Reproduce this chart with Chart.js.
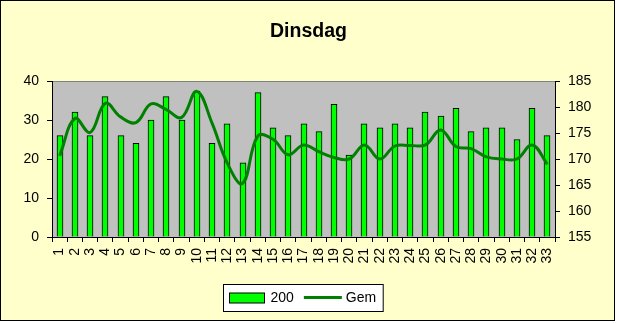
<!DOCTYPE html>
<html>
<head>
<meta charset="utf-8">
<script src="https://cdn.jsdelivr.net/npm/chart.js@4/dist/chart.umd.min.js"></script>
<style>
html,body{margin:0;padding:0;background:#ffffff;}
#wrap{width:617px;height:323px;}
canvas{display:block;}
</style>
</head>
<body>
<div id="wrap"><canvas id="c" width="617" height="323"></canvas></div>
<script>
const titleText = 'Dinsdag';
const days = ['1','2','3','4','5','6','7','8','9','10','11','12','13','14','15','16','17','18','19','20','21','22','23','24','25','26','27','28','29','30','31','32','33'];
const values200 = [26,32,26,36,26,24,30,36,30,37.4,24,29,19,37,28,26,29,27,34,21,29,28,29,28,32,31,33,27,28,28,25,33,26];
const valuesGem = [170.6,177.8,175.1,180.7,178.1,177,180.6,179.5,178,183,176.9,169.2,165.3,174.4,173.8,170.8,172.7,171.4,170.3,170,172.7,170,172.5,172.6,172.7,175.6,172.4,172,170.4,170,170,172.7,169];
const leftTicks = [0,10,20,30,40];
const rightTicks = [155,160,165,170,175,180,185];

const FONT = "'Liberation Sans', Arial, sans-serif";

const framePlugin = {
  id: 'frame',
  afterDatasetsUpdate(chart) {
    chart.data.datasets.forEach((d, i) => {
      if (d.type !== 'bar') return;
      chart.getDatasetMeta(i).data.forEach(el => { el.x = Math.round(el.x); });
    });
  },
  beforeDraw(chart) {
    const ctx = chart.ctx;
    const a = chart.chartArea;
    ctx.save();
    ctx.fillStyle = '#ffffff';
    ctx.fillRect(0, 0, chart.width, chart.height);
    ctx.fillStyle = '#FFFFCC';
    ctx.fillRect(0, 0, 615, 321);
    ctx.strokeStyle = '#000000';
    ctx.lineWidth = 1;
    ctx.strokeRect(0.5, 0.5, 614, 320);
    ctx.fillStyle = '#C0C0C0';
    ctx.fillRect(a.left, a.top, a.right - a.left, a.bottom - a.top);
    ctx.strokeStyle = '#808080';
    ctx.beginPath();
    ctx.moveTo(a.left, a.top + 0.5);
    ctx.lineTo(a.right, a.top + 0.5);
    ctx.stroke();
    ctx.restore();
  },
  afterDraw(chart) {
    const ctx = chart.ctx;
    const ds = chart.data.datasets;
    const barDs = ds.find(d => d.type === 'bar');
    const lineDs = ds.find(d => d.type === 'line');
    ctx.save();
    ctx.font = '14px ' + FONT;
    const w1 = ctx.measureText(barDs.label).width;
    const w2 = ctx.measureText(lineDs.label).width;
    const total = 6 + 36 + 5 + w1 + 10 + 38 + 4 + w2 + 7;
    const bx = Math.round(302.5 - total / 2) + 0.5;
    const by = 284.5;
    const bh = 27;
    ctx.fillStyle = '#ffffff';
    ctx.fillRect(bx, by, total, bh);
    ctx.strokeStyle = '#000000';
    ctx.lineWidth = 1;
    ctx.strokeRect(bx, by, total, bh);
    let x = bx + 6;
    const cy = by + 13;
    ctx.fillStyle = barDs.backgroundColor;
    ctx.fillRect(x, cy - 4.5, 35, 10);
    ctx.strokeRect(x, cy - 4.5, 35, 10);
    x += 36 + 5;
    ctx.fillStyle = '#000000';
    ctx.textBaseline = 'middle';
    ctx.textAlign = 'left';
    ctx.fillText(barDs.label, x, cy + 1);
    x += w1 + 10;
    ctx.strokeStyle = lineDs.borderColor;
    ctx.lineWidth = 3;
    ctx.beginPath();
    ctx.moveTo(x, cy);
    ctx.lineTo(x + 38, cy);
    ctx.stroke();
    x += 38 + 4;
    ctx.fillText(lineDs.label, x, cy + 1);
    ctx.restore();
  }
};

const tickFont = { family: FONT, size: 14 };

new Chart(document.getElementById('c'), {
  type: 'bar',
  data: {
    labels: days,
    datasets: [
      {
        type: 'line',
        label: 'Gem',
        data: valuesGem,
        yAxisID: 'y1',
        borderColor: '#008000',
        borderWidth: 3,
        pointRadius: 0,
        tension: 0.4,
        fill: false,
        order: 0
      },
      {
        type: 'bar',
        label: '200',
        data: values200,
        yAxisID: 'y',
        backgroundColor: '#00FF00',
        borderColor: '#000000',
        borderWidth: 1,
        barThickness: 6,
        categoryPercentage: 1.0,
        order: 1
      }
    ]
  },
  options: {
    responsive: false,
    animation: false,
    devicePixelRatio: 1,
    layout: { padding: { left: 0, right: 0, top: 0, bottom: 0 } },
    plugins: {
      legend: { display: false },
      tooltip: { enabled: false },
      title: {
        display: true,
        text: titleText,
        color: '#000000',
        font: { family: FONT, size: 19.5, weight: 'bold' },
        padding: { top: 20.3, bottom: 37.3 }
      }
    },
    scales: {
      x: {
        offset: true,
        grid: { display: true, offset: true, drawOnChartArea: false, drawTicks: true, tickLength: 5, color: '#000000' },
        border: { display: true, color: '#000000', width: 1 },
        ticks: { color: '#000000', font: tickFont, maxRotation: 90, minRotation: 90, autoSkip: false, padding: 6 },
        afterFit(scale) { scale.height = 323 - 237; }
      },
      y: {
        position: 'left',
        min: 0, max: 40,
        afterBuildTicks(scale) { scale.ticks = leftTicks.map(v => ({ value: v })); },
        grid: { display: true, drawOnChartArea: false, drawTicks: true, tickLength: 5, color: '#000000' },
        border: { display: true, color: '#000000', width: 1 },
        ticks: { color: '#000000', font: tickFont, padding: 8 },
        afterFit(scale) { scale.width = 52; }
      },
      y1: {
        position: 'right',
        min: 155, max: 185,
        afterBuildTicks(scale) { scale.ticks = rightTicks.map(v => ({ value: v })); },
        grid: { display: true, drawOnChartArea: false, drawTicks: true, tickLength: 5, color: '#000000' },
        border: { display: true, color: '#000000', width: 1 },
        ticks: { color: '#000000', font: tickFont, padding: 8 },
        afterFit(scale) { scale.width = 617 - 555; }
      }
    }
  },
  plugins: [framePlugin]
});
</script>
</body>
</html>
